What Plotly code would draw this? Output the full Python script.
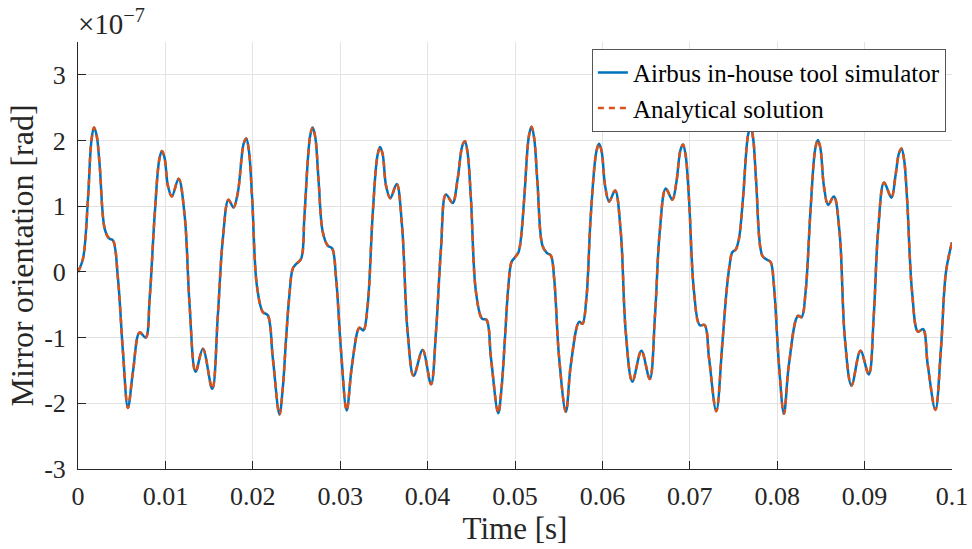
import plotly.graph_objects as go

# Time samples [ms]
time_ms = [
    0.00, 0.57, 1.14, 1.53, 1.83, 2.13, 2.48, 3.05, 3.55, 4.00, 4.57, 5.14, 5.71, 6.29, 7.05, 7.74, 8.20,
    8.77, 9.30, 9.60, 9.90, 10.29, 10.74, 11.51, 12.20, 12.77, 13.45, 14.29, 15.36, 16.00, 16.57, 17.22,
    17.79, 18.29, 18.95, 19.25, 19.55, 19.93, 20.46, 21.14, 21.71, 22.29, 23.05, 23.43, 23.81, 24.19, 24.57,
    24.96, 25.53, 25.91, 26.56, 26.86, 27.16, 27.54, 28.00, 28.57, 29.07, 29.53, 30.10, 30.74, 31.36, 32.20,
    32.65, 33.14, 33.71, 34.26, 34.56, 34.86, 35.25, 35.74, 36.46, 37.07, 37.71, 38.40, 39.43, 40.39, 40.96,
    41.53, 42.10, 42.86, 43.43, 43.97, 44.27, 44.57, 44.96, 45.53, 46.22, 46.74, 47.25, 48.08, 48.46, 48.85,
    49.22, 49.60, 49.99, 50.40, 50.67, 51.05, 51.59, 51.89, 52.19, 52.57, 53.14, 53.64, 54.10, 54.48, 55.05,
    55.82, 56.39, 57.34, 57.71, 58.17, 58.67, 59.32, 59.62, 59.92, 60.31, 60.77, 61.45, 62.10, 62.67, 63.43,
    64.46, 65.42, 66.02, 66.56, 67.25, 68.00, 68.46, 68.92, 69.22, 69.52, 69.91, 70.48, 71.13, 71.70, 72.20,
    73.03, 73.71, 74.20, 74.55, 74.86, 75.25, 75.62, 76.08, 76.66, 76.96, 77.26, 77.60, 78.29, 78.79, 79.25,
    79.62, 80.20, 80.77, 81.34, 82.37, 82.79, 83.25, 83.82, 84.35, 84.65, 84.95, 85.34, 85.83, 86.48, 87.13,
    87.74, 88.50, 89.53, 90.48, 91.05, 91.54, 92.23, 93.07, 93.53, 93.92, 94.22, 94.52, 94.86, 95.43, 96.11,
    96.69, 97.22, 98.10, 98.74, 99.31, 100.00,
]

# Mirror orientation in units of 1e-7 rad
orientation_e7 = [
    0.00, 0.20, 1.11, 1.99, 2.20, 2.08, 1.62, 0.66, 0.51, 0.48, -0.10, -1.21, -2.07, -1.52, -0.92, -1.00, -0.40,
    0.86, 1.71, 1.84, 1.74, 1.31, 1.15, 1.42, 0.86, -0.51, -1.52, -1.17, -1.78, -0.66, 0.50, 1.10,
    0.98, 1.21, 1.95, 2.03, 1.85, 1.11, -0.20, -0.61, -0.66, -1.31, -2.17, -1.77, -1.01, -0.35, 0.05,
    0.12, 0.20, 0.86, 2.07, 2.20, 2.04, 1.36, 0.61, 0.40, 0.36, -0.10, -1.21, -2.11, -1.41, -0.85,
    -0.89, -0.51, 0.86, 1.77, 1.90, 1.79, 1.31, 1.12, 1.34, 0.71, -0.91, -1.58, -1.19, -1.71, -0.91,
    0.35, 1.18, 1.05, 1.41, 1.92, 1.99, 1.82, 1.11, -0.30, -0.71, -0.73, -1.31, -2.15, -1.77, -1.01,
    -0.25, 0.15, 0.22, 0.30, 0.50, 1.11, 2.07, 2.21, 2.04, 1.36, 0.40, 0.29, 0.25, -0.10, -1.31,
    -2.13, -1.41, -0.76, -0.79, -0.40, 0.86, 1.84, 1.95, 1.83, 1.31, 1.07, 1.24, 0.61, -0.91, -1.67,
    -1.20, -1.63, -0.66, 0.61, 1.27, 1.10, 1.36, 1.85, 1.94, 1.78, 1.11, -0.30, -0.81, -0.81, -1.31,
    -2.12, -1.11, -0.30, 0.10, 0.30, 0.34, 0.50, 1.11, 2.08, 2.21, 2.02, 1.36, 0.25, 0.19, 0.15,
    -0.20, -1.41, -2.16, -1.41, -0.67, -0.69, -0.30, 0.96, 1.87, 2.01, 1.88, 1.31, 1.02, 1.15, 0.61,
    -1.01, -1.73, -1.20, -1.56, -0.66, 0.61, 1.36, 1.13, 1.46, 1.80, 1.88, 1.71, 1.11, -0.30, -0.91,
    -0.87, -1.41, -2.10, -1.16, 0.00, 0.45,
]

time_s = [t / 1000.0 for t in time_ms]

x_tick_vals = [0, 0.01, 0.02, 0.03, 0.04, 0.05, 0.06, 0.07, 0.08, 0.09, 0.1]
x_tick_text = ["0", "0.01", "0.02", "0.03", "0.04", "0.05", "0.06", "0.07", "0.08", "0.09", "0.1"]
y_tick_vals = [-3, -2, -1, 0, 1, 2, 3]
y_tick_text = ["-3", "-2", "-1", "0", "1", "2", "3"]

series_names = ["Airbus in-house tool simulator", "Analytical solution"]

FONT = "Liberation Serif"
AX = "#262626"
GRID = "#e3e3e3"

fig = go.Figure()
fig.add_trace(go.Scatter(
    x=time_s, y=orientation_e7, mode="lines", name=series_names[0],
    line=dict(color="#0072BD", width=2.5, shape="spline", smoothing=1.0),
))
fig.add_trace(go.Scatter(
    x=time_s, y=orientation_e7, mode="lines", name=series_names[1],
    line=dict(color="#D95319", width=2.5, dash="6px,5px", shape="spline", smoothing=1.0),
))

fig.update_layout(
    width=972, height=549,
    margin=dict(l=78, r=20, t=42, b=80),
    plot_bgcolor="white", paper_bgcolor="white",
    font=dict(family=FONT, color=AX, size=26),
    showlegend=True,
    legend=dict(
        x=0.993, y=0.984, xanchor="right", yanchor="top",
        bgcolor="white", bordercolor="#555555", borderwidth=1,
        font=dict(family=FONT, size=25, color="black"),
        itemwidth=30, tracegroupgap=0,
    ),
    xaxis=dict(
        range=[0, 0.1], tickvals=x_tick_vals, ticktext=x_tick_text,
        showline=True, linecolor=AX, linewidth=1, mirror=False,
        ticks="inside", ticklen=8, tickcolor=AX, tickwidth=1,
        showgrid=True, gridcolor=GRID, gridwidth=1, zeroline=False,
        tickfont=dict(family=FONT, size=26, color=AX),
        title=dict(text="Time [s]", font=dict(family=FONT, size=31, color=AX), standoff=0),
        ticklabelstandoff=4, automargin=False,
    ),
    yaxis=dict(
        range=[-3, 3.5], tickvals=y_tick_vals, ticktext=y_tick_text,
        showline=True, linecolor=AX, linewidth=1, mirror=False,
        ticks="inside", ticklen=8, tickcolor=AX, tickwidth=1,
        showgrid=True, gridcolor=GRID, gridwidth=1, zeroline=False,
        tickfont=dict(family=FONT, size=26, color=AX),
        title=dict(text="Mirror orientation [rad]", font=dict(family=FONT, size=32, color=AX), standoff=0),
        ticklabelstandoff=6, automargin=False,
    ),
)

fig.add_annotation(
    xref="paper", yref="paper", x=0, y=1, xanchor="left", yanchor="bottom",
    text="×10<sup>−7</sup>", showarrow=False, yshift=0, xshift=-2,
    font=dict(family=FONT, size=29, color=AX),
)

fig.write_html(
    "out.html",
    config={"displayModeBar": False},
    post_script="document.body.style.margin='0px';",
)
